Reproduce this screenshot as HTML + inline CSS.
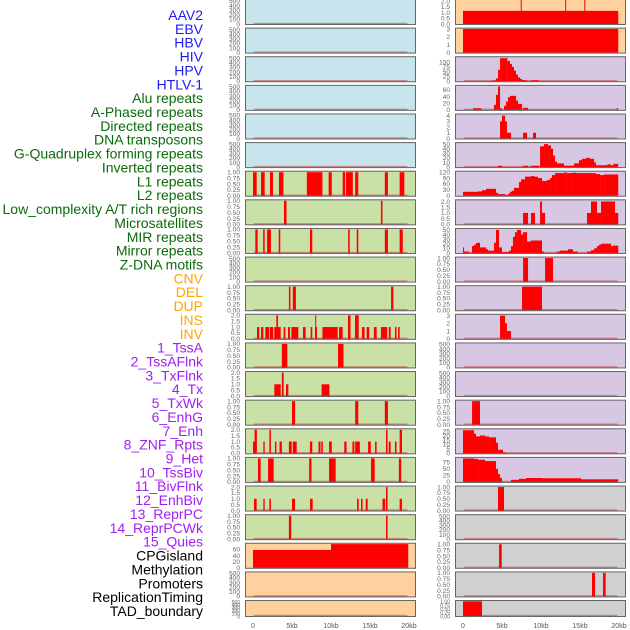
<!DOCTYPE html>
<html><head><meta charset="utf-8"><style>
html,body{margin:0;padding:0;background:#fff;}
svg{display:block;font-family:"Liberation Sans",sans-serif;}
</style></head><body>
<svg id="chart" width="630" height="630" viewBox="0 0 630 630"></svg>
<script>
const labels = ["AAV2","EBV","HBV","HIV","HPV","HTLV-1","Alu repeats","A-Phased repeats","Directed repeats","DNA transposons","G-Quadruplex forming repeats","Inverted repeats","L1 repeats","L2 repeats","Low_complexity A/T rich regions","Microsatellites","MIR repeats","Mirror repeats","Z-DNA motifs","CNV","DEL","DUP","INS","INV","1_TssA","2_TssAFlnk","3_TxFlnk","4_Tx","5_TxWk","6_EnhG","7_Enh","8_ZNF_Rpts","9_Het","10_TssBiv","11_BivFlnk","12_EnhBiv","13_ReprPC","14_ReprPCWk","15_Quies","CPGisland","Methylation","Promoters","ReplicationTiming","TAD_boundary"];
const labelGroups = [6,13,5,15,5];
const groupColors = ["#1c1cf0","#0b6b0b","#ffa500","#a020f0","#000000"];
const xTickValues = [0,5,10,15,20];
const xTickLabels = ["0","5kb","10kb","15kb","20kb"];

const L6 = [[0,0.47,1],[1.03,1.5,1],[2.18,2.56,1],[3.33,3.9,1],[6.9,8.9,1],[9.7,10.1,1],[11.5,11.8,1],[11.9,12.8,1],[13.1,13.5,1],[16.9,17.3,1],[18.8,19.4,1]];
const L7 = [[3.97,4.3,1],[16.4,16.6,1]];
const L8 = [[0.3,0.6,1],[1.3,1.5,1],[1.8,2.3,1],[3.3,3.5,1],[7.3,7.6,1],[12.2,12.4,1],[13.3,13.5,1],[16.9,17.3,1],[18.8,19.2,1]];
const L10 = [[4.6,4.8,1],[5.1,5.5,1],[17.7,18.0,1]];
const L11 = [[0.51,0.81,1],[1.03,1.33,1],[1.58,2.09,1],[2.18,2.6,1],[2.73,3.55,1],[2.99,3.2,2],[3.93,4.15,1],[4.49,4.74,1],[4.92,5.81,1],[6.41,6.75,1],[7.39,7.6,1],[7.95,8.2,1],[7.98,8.1,2],[8.9,10.86,1],[11.03,11.5,1],[12.18,12.5,2],[13.08,13.55,2],[13.97,14.3,1],[14.57,14.9,1],[15.5,15.85,1],[16.4,17.2,1],[17.4,17.65,1],[18.2,18.4,1],[18.6,18.8,1]];
const L12 = [[3.7,4.4,1],[10.9,11.6,1]];
const L13 = [[2.73,3.55,1],[3.7,3.93,2],[4.23,4.53,1],[8.8,9.8,1]];
const L14 = [[5.0,5.4,1],[13.1,13.5,1],[16.9,17.3,1]];
const L15 = [[0,0.39,1],[0.2,0.5,2],[1.33,1.5,1],[2.1,2.3,2],[2.82,3.0,1],[3.4,3.7,1],[4.6,4.96,1],[5.1,5.6,1],[7.3,7.6,1],[8.4,8.65,1],[8.75,8.95,1],[9.75,10.1,1],[11.7,12.0,1],[12.75,13.0,1],[13.1,13.7,1],[14.75,15.1,1],[15.65,15.85,1],[17.05,17.25,2],[17.4,17.65,1],[18.2,18.4,1],[18.8,19.1,2]];
const L16 = [[0.64,0.98,1],[1.93,2.65,1],[7.2,7.5,1],[9.75,10.6,1],[15.13,15.6,1],[18.7,19.0,1]];
const L17 = [[0.13,0.47,1],[1.33,1.5,1],[2.1,2.3,1],[5.0,5.39,1],[7.31,7.65,1],[13.34,13.55,1],[13.85,14.05,1],[14.45,14.7,1],[16.6,16.95,1],[17.05,17.25,2],[18.8,19.1,1]];
const L18 = [[4.6,4.9,1],[17.05,17.25,1]];
const L19 = [[0,10,58],[10,19.9,77]];

const R0 = [[0,19.9,1.15],[7.4,7.5,2.1],[13.1,13.2,2.1],[15.55,15.65,2.1]];
const R1 = [[0,19.9,3]];
const R2 = [[3.46,3.98,2],[3.98,4.23,5],[4.23,4.49,15],[4.49,4.75,60],[4.75,5.69,120],[5.69,6.03,105],[6.03,6.28,90],[6.28,6.54,75],[6.54,6.8,55],[6.8,7.05,35],[7.05,7.31,20],[7.31,7.57,12],[7.57,8.08,6],[8.08,8.42,3],[8.72,9.75,5]];
const R3 = [[1.3,2.35,5],[3.98,4.23,15],[4.23,4.49,45],[4.49,4.75,70],[4.75,5.0,5],[5.26,5.52,12],[5.52,5.77,25],[5.77,6.03,38],[6.03,6.8,42],[6.8,7.05,28],[7.05,7.57,18],[7.7,8.34,6],[19.7,19.9,5]];
const R4 = [[4.75,5.0,3],[5.0,5.39,4],[5.39,5.64,3],[5.64,6.16,1],[7.7,8.21,1],[8.98,9.36,1]];
const R5 = [[4.49,5.0,3],[7.7,8.34,3],[8.72,9.75,3],[9.88,10.39,45],[10.39,10.9,50],[10.9,11.28,47],[11.28,11.54,40],[11.54,11.8,25],[11.8,12.05,12],[12.05,12.95,8],[12.95,14.23,3],[14.23,14.87,8],[14.87,15.26,15],[15.26,15.77,18],[15.77,16.28,20],[16.28,16.8,18],[16.8,17.05,10],[17.05,18.51,4],[18.51,18.93,6],[18.93,19.27,4],[19.27,19.9,7]];
const R6 = [[0,1.93,20],[1.93,2.44,22],[2.44,2.95,28],[2.95,4.23,35],[4.23,4.49,15],[4.49,5.39,8],[5.39,5.77,3],[5.77,6.03,10],[6.03,6.28,20],[6.28,6.54,25],[6.54,7.18,40],[7.18,7.44,70],[7.44,7.95,83],[7.95,8.72,97],[8.72,9.1,100],[9.1,9.62,97],[9.62,10.13,90],[10.13,10.77,75],[10.77,11.16,80],[11.16,11.41,90],[11.41,11.8,105],[11.8,12.95,115],[12.95,13.34,118],[13.34,13.98,115],[13.98,14.49,117],[14.49,17.05,115],[17.05,17.57,110],[17.57,18.08,105],[18.08,19.9,108]];
const R7 = [[7.7,8.34,1],[8.72,9.23,1],[9.88,10.13,2],[10.13,10.52,1],[15.9,16.41,1],[16.41,17.18,2],[17.18,17.7,1],[17.7,19.49,2],[19.49,19.9,1]];
const R8 = [[0,0.13,12],[0.13,0.77,3],[1.16,1.41,15],[1.41,1.67,18],[1.67,2.18,22],[2.18,2.95,12],[2.95,3.21,8],[3.21,3.98,5],[3.98,4.23,22],[4.23,4.62,50],[4.62,5.0,12],[5.0,5.9,2],[5.9,6.16,5],[6.16,6.41,15],[6.41,6.67,35],[6.67,6.93,45],[6.93,7.44,50],[7.44,7.7,40],[7.7,8.21,45],[8.21,8.72,25],[8.72,10.13,27],[10.13,10.39,3],[12.05,12.44,3],[12.44,13.46,5],[13.46,14.1,8],[14.1,14.75,3],[15.9,16.41,3],[16.41,16.8,6],[16.8,17.18,10],[17.18,17.44,15],[17.44,17.7,18],[17.7,18.98,20],[18.98,19.23,15],[19.23,19.9,16]];
const R9 = [[7.7,8.34,1],[10.52,11.54,1]];
const R10 = [[7.57,10.13,1]];
const R11 = [[4.75,5.39,3],[5.39,5.64,2],[5.64,6.16,1]];
const R14 = [[1.16,2.18,1]];
const R15 = [[0,1.41,26],[1.41,1.67,22],[1.67,2.18,19],[2.18,2.82,20],[2.82,3.34,19],[3.34,4.23,18],[4.23,4.49,12],[4.49,5.13,4],[5.13,5.52,1]];
const R16 = [[0,1.41,90],[1.41,1.93,88],[1.93,2.82,85],[2.82,4.23,80],[4.23,4.49,50],[4.49,4.75,30],[4.75,5.0,15],[6.16,7.18,8],[7.18,8.08,12],[8.08,10.13,15],[10.13,15.13,14],[15.13,19.9,10]];
const R17 = [[4.49,5.26,1]];
const R19 = [[4.62,4.96,1]];
const R20 = [[16.54,16.93,1],[17.95,18.29,1]];
const R21 = [[0,2.44,1]];

const T500 = [0,100,200,300,400,500];
const T1 = [0,0.25,0.5,0.75,1];
const T2 = [0,0.5,1,1.5,2];
const T3 = [0,1,2,3];

const BLUE="#c8e4ec", GREEN="#c9e1a6", ORANGE="#ffd19e", PURPLE="#d7c7e3", GRAY="#d0d0d0";
const leftPanels = [
 [null,520,T500,BLUE,0],[null,520,T500,BLUE,0],[null,520,T500,BLUE,0],[null,520,T500,BLUE,0],[null,520,T500,BLUE,0],[null,520,T500,BLUE,0],
 [L6,1.02,T1,GREEN,2],[L7,1.02,T1,GREEN,2],[L8,1.02,T1,GREEN,2],[null,520,T500,GREEN,0],[L10,1.02,T1,GREEN,2],[L11,2.04,T2,GREEN,1],
 [L12,1.02,T1,GREEN,2],[L13,2.04,T2,GREEN,1],[L14,1.02,T1,GREEN,2],[L15,2.04,T2,GREEN,1],[L16,1.02,T1,GREEN,2],[L17,2.04,T2,GREEN,1],[L18,1.02,T1,GREEN,2],
 [L19,78,[0,20,40,60],ORANGE,0],[null,520,T500,ORANGE,0],[null,520,T500,ORANGE,0]];
const rightPanels = [
 [R0,2.1,T2,ORANGE,1],[R1,3.05,T3,ORANGE,0],
 [R2,125,[0,25,50,75,100],PURPLE,0],[R3,72,[0,20,40,60],PURPLE,0],[R4,4.2,[0,1,2,3,4],PURPLE,0],[R5,52,[0,10,20,30,40,50],PURPLE,0],
 [R6,122,[0,30,60,90,120],PURPLE,0],[R7,2.1,T2,PURPLE,1],[R8,52,[0,10,20,30,40,50],PURPLE,0],[R9,1.02,T1,PURPLE,2],[R10,1.02,T1,PURPLE,2],
 [R11,3.1,T3,PURPLE,0],[null,520,T500,PURPLE,0],[null,520,T500,PURPLE,0],[R14,1.02,T1,PURPLE,2],[R15,27,[0,5,10,15,20,25],PURPLE,0],[R16,92,[0,25,50,75],PURPLE,0],
 [R17,1.02,T1,GRAY,2],[null,520,T500,GRAY,0],[R19,1.02,T1,GRAY,2],[R20,1.02,T1,GRAY,2],[R21,1.02,T1,GRAY,2]];

const NS="http://www.w3.org/2000/svg";
const svg=document.getElementById('chart');
function mk(tag,attrs,parent){const e=document.createElementNS(NS,tag);for(const k in attrs)e.setAttribute(k,attrs[k]);(parent||svg).appendChild(e);return e;}

let li=0;
labelGroups.forEach((n,g)=>{for(let j=0;j<n;j++){
  const t=mk('text',{x:203,y:15+li*13.86+5,'text-anchor':'end','font-size':'14',fill:groupColors[g]});
  t.textContent=labels[li];
  
  
  li++;}});

function rowGeom(i){ if(i<21) return [ -1+i*28.62, 26 ]; return [600,17]; }

function drawPanel(p,i,left,x0,side){
  const [data,ymax,ticks,bg,dec]=p;
  const [top,h]=rowGeom(i);
  const W=171, L=left;
  const g=mk('g',{});
  
  
  mk('rect',{x:L,y:top,width:W,height:h,fill:bg},g);
  const xs=kb=>x0+kb*7.8;
  const ys=v=>top+h-1-(v/ymax)*(h-2);
  const bl=mk('rect',{x:xs(0.1),y:top+h-2.2,width:xs(19.8)-xs(0.1),height:1.4,fill:'rgba(190,60,60,0.55)'},g);
  
  
  if(data){data.forEach(d=>{
    const r=mk('rect',{x:xs(d[0]),y:ys(d[2]),width:Math.max(1,xs(d[1])-xs(d[0])),height:ys(0)-ys(d[2]),fill:'#ff0000'},g);
    
    
  });}
  mk('rect',{x:L+0.5,y:top+0.5,width:W-1,height:h-1,fill:'none',stroke:'#666','stroke-width':1},g);
  const fs = i===21?5:6.6;
  ticks.forEach(t=>{
    const y=ys(t);
    const tx=mk('text',{x:L-5,y:y+2.3,'text-anchor':'end','font-size':fs,fill:'#666'},g);
    tx.textContent=t.toFixed(dec);
    
    
  });
}
leftPanels.forEach((p,i)=>drawPanel(p,i,245,253,'left'));
rightPanels.forEach((p,i)=>drawPanel(p,i,455,463,'right'));

[253,463].forEach(x0=>{
  xTickValues.forEach((v,k)=>{
    const t=mk('text',{x:x0+v*7.8,y:628,'text-anchor':'middle','font-size':'7',fill:'#555'});
    t.textContent=xTickLabels[k];
    
    
  });
});
</script>
</body></html>
